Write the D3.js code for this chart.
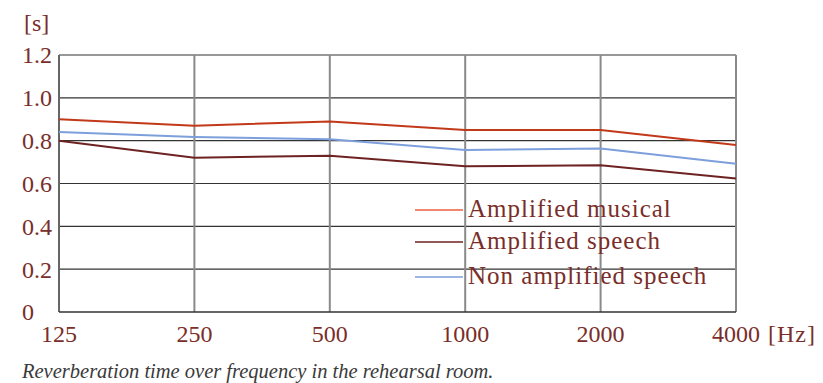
<!DOCTYPE html>
<html>
<head>
<meta charset="utf-8">
<script src="https://cdn.jsdelivr.net/npm/d3@7"></script>
<style>
  body { margin: 0; background: #fff; }
</style>
</head>
<body>
<svg id="chart" width="823" height="383"></svg>
<script>
const freqs = ["125", "250", "500", "1000", "2000", "4000"];
const yTicks = [0, 0.2, 0.4, 0.6, 0.8, 1.0, 1.2];
const musical = [0.90, 0.87, 0.89, 0.85, 0.85, 0.78];
const speech = [0.80, 0.72, 0.73, 0.68, 0.685, 0.623];
const nonAmp = [0.84, 0.817, 0.807, 0.757, 0.763, 0.692];

const seriesNames = ["Amplified musical", "Amplified speech", "Non amplified speech"];
const seriesData = [musical, speech, nonAmp];
const lineColors = ["#c2391a", "#6e2222", "#7d9fdc"];
const legendColors = ["#ef5f3c", "#6e2222", "#7d9fdc"];
const textColor = "#7a2e29";
const serif = "'Liberation Serif', 'DejaVu Serif', serif";

var svg = d3.select("#chart").style("font-family", serif);
var margin = {left: 59, right: 823 - 736, top: 55, bottom: 383 - 312};
var w = 823 - margin.left - margin.right;
var h = 383 - margin.top - margin.bottom;

var x = d3.scalePoint().domain(freqs).range([margin.left, margin.left + w]);
var y = d3.scaleLinear().domain([0, 1.2]).range([margin.top + h, margin.top]);

let g = svg.append("g");

// horizontal grid
g.selectAll(".hgrid")
  .data(yTicks.filter(d => d > 0))
  .enter().append("line")
  .attr("x1", margin.left).attr("x2", margin.left + w)
  .attr("y1", d => y(d)).attr("y2", d => y(d))
  .attr("stroke", "#333")
  .attr("stroke-width", 1.2);

// vertical grid
g.selectAll(".vgrid")
  .data(freqs.slice(1))
  .enter().append("line")
  .attr("x1", d => x(d)).attr("x2", d => x(d))
  .attr("y1", margin.top).attr("y2", margin.top + h)
  .attr("stroke", "#8a8a8a")
  .attr("stroke-width", 2);

// left + bottom axis lines
g.append("line")
  .attr("x1", margin.left).attr("x2", margin.left)
  .attr("y1", margin.top).attr("y2", margin.top + h)
  .attr("stroke", "#666").attr("stroke-width", 2);
g.append("line")
  .attr("x1", margin.left).attr("x2", margin.left + w)
  .attr("y1", margin.top + h).attr("y2", margin.top + h)
  .attr("stroke", "#333").attr("stroke-width", 1.5);

function label(sel, size) {
  return sel.attr("fill", textColor)
    .style("font-family", serif)
    .style("font-size", size + "px");
}

// y labels (left aligned)
g.selectAll(".ylab")
  .data(yTicks)
  .enter().append("text")
  .attr("x", 22)
  .attr("y", d => y(d))
  .attr("dy", "0.35em")
  .call(label, 24)
  .text(d => d === 0 ? "0" : d.toFixed(1));

g.append("text")
  .attr("x", 24).attr("y", 31)
  .call(label, 24)
  .text("[s]");

// x labels
g.selectAll(".xlab")
  .data(freqs)
  .enter().append("text")
  .attr("x", d => x(d))
  .attr("y", 342)
  .attr("text-anchor", "middle")
  .call(label, 24)
  .text(d => d);

g.append("text")
  .attr("x", 768).attr("y", 342)
  .call(label, 24)
  .style("letter-spacing", "1px")
  .text("[Hz]");

// lines
var line = d3.line()
  .x((d, i) => x(freqs[i]))
  .y(d => y(d));

g.selectAll(".series")
  .data(seriesData)
  .enter().append("path")
  .attr("d", line)
  .attr("fill", "none")
  .attr("stroke", (d, i) => lineColors[i])
  .attr("stroke-width", 2);

// legend
var legY = [210, 242, 277];
var leg = g.selectAll(".leg")
  .data(seriesNames)
  .enter().append("g")
  .attr("transform", (d, i) => "translate(0," + legY[i] + ")");
leg.append("line")
  .attr("x1", 415).attr("x2", 463)
  .attr("stroke", (d, i) => legendColors[i])
  .attr("stroke-width", 1.5);
leg.append("text")
  .attr("x", 468).attr("y", 7)
  .call(label, 25)
  .style("letter-spacing", "1px")
  .text(d => d);

// caption
svg.append("text")
  .attr("x", 22).attr("y", 378)
  .attr("fill", "#3a3a3a")
  .style("font-family", serif)
  .style("font-size", "20.5px")
  .style("font-style", "italic")
  .text("Reverberation time over frequency in the rehearsal room.");
</script>
</body>
</html>
